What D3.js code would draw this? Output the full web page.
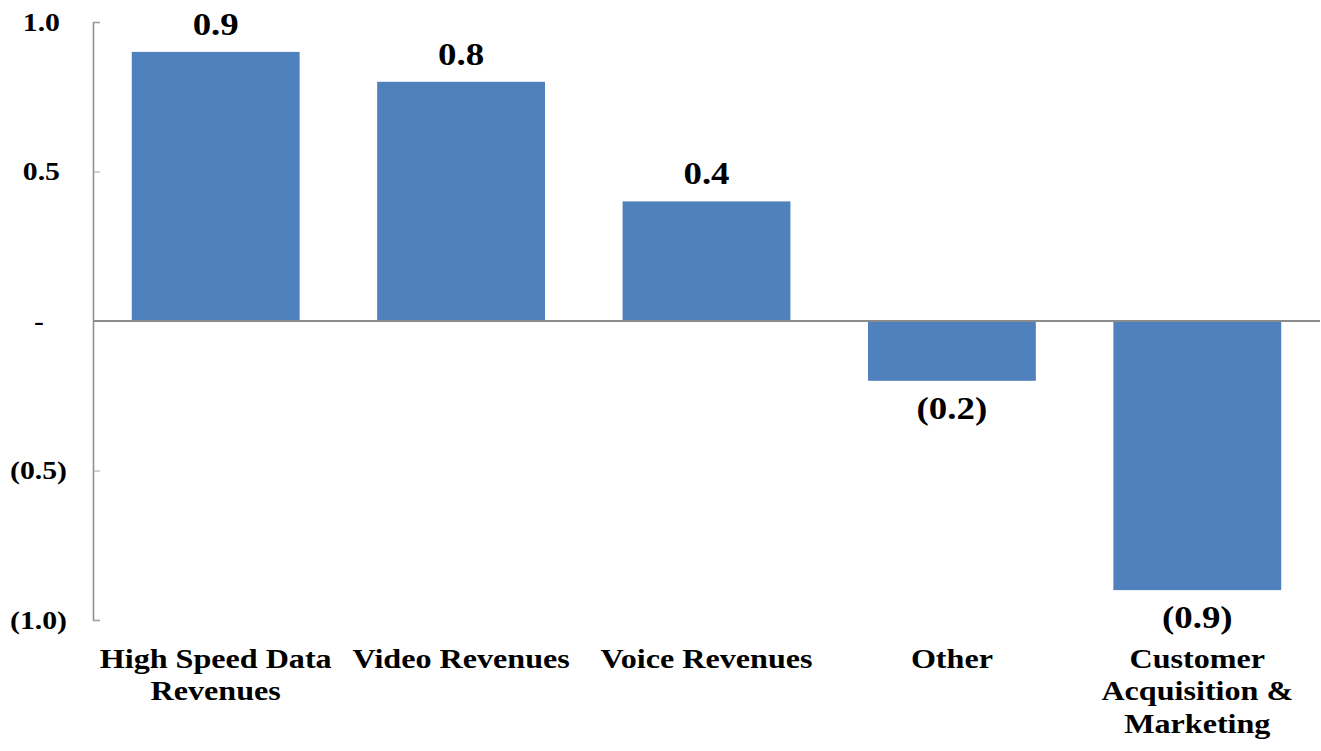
<!DOCTYPE html>
<html>
<head>
<meta charset="utf-8">
<script src="https://cdn.jsdelivr.net/npm/d3@7"></script>
<style>
  body { margin: 0; background: #fff; }
  svg text { font-family: "Liberation Serif", "Times New Roman", serif; font-weight: bold; fill: #000; }
</style>
</head>
<body>
<svg width="1321" height="751"></svg>
<script>
var categories = [
  ["High Speed Data", "Revenues"],
  ["Video Revenues"],
  ["Voice Revenues"],
  ["Other"],
  ["Customer", "Acquisition &", "Marketing"]
];
var values = [0.9, 0.8, 0.4, -0.2, -0.9];
var tickValues = [1.0, 0.5, 0, -0.5, -1.0];
var tickLabels = ["1.0", "0.5", "-", "(0.5)", "(1.0)"];

var svg = d3.select("svg"),
    width = +svg.attr("width"),
    height = +svg.attr("height");

var x0 = 93, x1 = 1320;
var stretch = 1.19; // source type is a bit wider than Liberation Serif

var x = d3.scaleBand()
    .domain(d3.range(values.length))
    .range([x0, x1])
    .paddingInner(0.316)
    .paddingOuter(0.158);

var y = d3.scaleLinear()
    .domain([-1, 1])
    .range([620, 22]);

// y axis
var yAxis = svg.append("g")
    .attr("transform", "translate(" + x0 + ",0)")
    .call(d3.axisRight(y).tickValues(tickValues).tickSize(7)
      .tickFormat(function(d, i) { return tickLabels[i]; }));
yAxis.select(".domain").attr("stroke", "#8c8c8c").attr("stroke-width", 1.5);
yAxis.selectAll(".tick line").attr("stroke", "#a0a0a0");
yAxis.selectAll(".tick text")
    .attr("text-anchor", "end")
    .attr("x", 0)
    .attr("dy", "0.32em")
    .attr("transform", function(d) {
      var tx = d < 0 ? -26 : d > 0 ? -33 : -49;
      return "translate(" + tx + ",0) scale(" + stretch + ",1)";
    })
    .style("font-size", "25px");

// bars
svg.append("g")
  .selectAll("rect")
  .data(values)
  .enter().append("rect")
    .attr("x", function(d, i) { return x(i); })
    .attr("y", function(d) { return y(Math.max(0, d)); })
    .attr("width", x.bandwidth())
    .attr("height", function(d) { return Math.abs(y(d) - y(0)); })
    .attr("fill", "#4f81bd");

// zero line
svg.append("line")
    .attr("x1", x0).attr("x2", x1)
    .attr("y1", y(0)).attr("y2", y(0))
    .attr("stroke", "#8c8c8c")
    .attr("stroke-width", 2);

// value labels
svg.append("g")
  .selectAll("text")
  .data(values)
  .enter().append("text")
    .attr("transform", function(d, i) {
      var cx = x(i) + x.bandwidth() / 2,
          cy = d >= 0 ? y(d) - 17 : y(d) + 38;
      return "translate(" + cx + "," + cy + ") scale(" + stretch + ",1)";
    })
    .attr("text-anchor", "middle")
    .style("font-size", "31px")
    .text(function(d) {
      var s = d3.format(".1f")(Math.abs(d));
      return d < 0 ? "(" + s + ")" : s;
    });

// category labels
var cat = svg.append("g")
  .selectAll("text")
  .data(categories)
  .enter().append("text")
    .attr("transform", function(d, i) {
      return "translate(" + (x(i) + x.bandwidth() / 2) + ",668) scale(" + stretch + ",1)";
    })
    .attr("text-anchor", "middle")
    .style("font-size", "27px");

cat.selectAll("tspan")
  .data(function(d) { return d; })
  .enter().append("tspan")
    .attr("x", 0)
    .attr("dy", function(d, i) { return i ? 32.5 : 0; })
    .text(function(d) { return d; });
</script>
</body>
</html>
